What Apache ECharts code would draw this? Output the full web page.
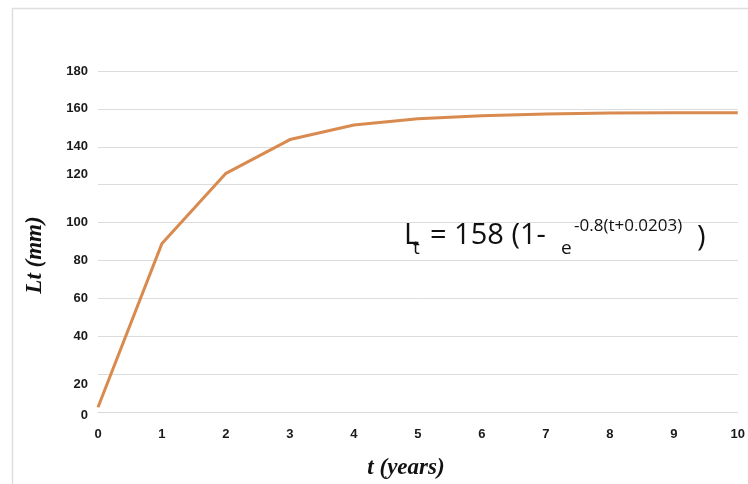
<!DOCTYPE html>
<html>
<head>
<meta charset="utf-8">
<script src="https://cdn.jsdelivr.net/npm/echarts@6/dist/echarts.min.js"></script>
<style>html,body{margin:0;padding:0;background:#fff}#c{width:748px;height:484px}</style>
</head>
<body>
<div id="c"></div>
<script>
const years = ['0','1','2','3','4','5','6','7','8','9','10'];
const lengths = [2.5, 89, 126, 143.8, 151.5, 154.8, 156.4, 157.3, 157.8, 158, 158];
const yTicks = [0, 20, 40, 60, 80, 100, 120, 140, 160, 180];

const chart = echarts.init(document.getElementById('c'), null, {renderer: 'canvas'});
const labelFont = {fontFamily: 'Liberation Sans', fontWeight: 'bold', fontSize: 13, color: '#1a1a1a'};
chart.setOption({
  animation: false,
  backgroundColor: '#fff',
  grid: {left: 98, right: 8, top: 71, bottom: 72},
  xAxis: {
    type: 'category', data: years, boundaryGap: false,
    axisLine: {show: true, lineStyle: {color: '#d9d9d9', width: 1}},
    axisTick: {show: false},
    axisLabel: Object.assign({margin: 16}, labelFont),
    splitLine: {show: false}
  },
  yAxis: {
    type: 'value', min: 0, max: 180, interval: 20,
    axisLine: {show: false}, axisTick: {show: false},
    splitLine: {lineStyle: {color: '#dcdcdc', width: 1}},
    axisLabel: Object.assign({
      margin: 10,
      formatter: function (v) {
        if (v === 120) return '{up|' + v + '}';
        if (v === 20) return '{dn|' + v + '}';
        if (v === 0) return '{dn0|' + v + '}';
        return String(v);
      },
      rich: {
        up: Object.assign({padding: [0, 0, 20, 0]}, labelFont),
        dn: Object.assign({padding: [20, 0, 0, 0]}, labelFont),
        dn0: Object.assign({padding: [6, 0, 0, 0]}, labelFont)
      }
    }, labelFont)
  },
  series: [{
    type: 'line', data: lengths, symbol: 'none',
    lineStyle: {color: '#D98A4E', width: 3}
  }],
  graphic: [
    {type: 'line', shape: {x1: 12.5, y1: 8, x2: 12.5, y2: 484}, style: {stroke: '#dedede', lineWidth: 1.5}},
    {type: 'line', shape: {x1: 12, y1: 8.5, x2: 748, y2: 8.5}, style: {stroke: '#dedede', lineWidth: 1.5}},
    {type: 'text', x: 35, y: 255, rotation: Math.PI / 2, z: 100,
      style: {text: 'Lt (mm)', font: 'italic bold 23px "Liberation Serif"', fill: '#111', textAlign: 'center', textVerticalAlign: 'middle'}},
    {type: 'text', x: 406, y: 468, z: 100,
      style: {text: 't (years)', font: 'italic bold 23px "Liberation Serif"', fill: '#111', textAlign: 'center', textVerticalAlign: 'middle'}},
    {type: 'text', x: 404, y: 250, z: 100, style: {text: 'L', font: '29px "Open Sans"', fill: '#111', textVerticalAlign: 'bottom'}},
    {type: 'text', x: 413, y: 258, z: 100, style: {text: 't', font: '19px "Open Sans"', fill: '#111', textVerticalAlign: 'bottom'}},
    {type: 'text', x: 430, y: 250, z: 100, style: {text: '= 158 (1-', font: '29px "Open Sans"', fill: '#111', textVerticalAlign: 'bottom'}},
    {type: 'text', x: 561, y: 258, z: 100, style: {text: 'e', font: '19px "Open Sans"', fill: '#111', textVerticalAlign: 'bottom'}},
    {type: 'text', x: 574, y: 235, z: 100, style: {text: '-0.8(t+0.0203)', font: '17px "Open Sans"', fill: '#111', textVerticalAlign: 'bottom'}},
    {type: 'text', x: 697, y: 252, z: 100, style: {text: ')', font: '29px "Open Sans"', fill: '#111', textVerticalAlign: 'bottom'}}
  ]
});
</script>
</body>
</html>
